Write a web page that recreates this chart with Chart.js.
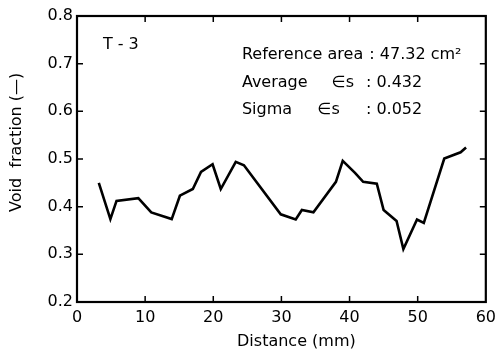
<!DOCTYPE html>
<html>
<head>
<meta charset="utf-8">
<script src="https://cdn.jsdelivr.net/npm/chart.js@4"></script>
<style>
  html, body { margin: 0; padding: 0; background: #fff; }
  #wrap { width: 502px; height: 355px; }
</style>
</head>
<body>
<div id="wrap"><canvas id="voidChart" width="502" height="355"></canvas></div>
<script>
// distance along the sample (mm) and measured void fraction
const distance = [3.2, 4.9, 5.8, 9.0, 10.9, 13.9, 15.1, 17.0, 18.2, 19.9, 21.1, 23.3, 24.5,
                  29.9, 32.1, 33.0, 34.7, 38.0, 39.0, 40.8, 42.0, 44.0, 45.0, 46.9, 47.9,
                  49.9, 50.9, 53.9, 56.3, 57.1];
const voidFraction = [0.450, 0.374, 0.412, 0.418, 0.388, 0.374, 0.423, 0.437, 0.473, 0.489,
                      0.437, 0.494, 0.487, 0.384, 0.373, 0.393, 0.388, 0.452, 0.496, 0.471,
                      0.452, 0.448, 0.393, 0.370, 0.311, 0.373, 0.366, 0.501, 0.514, 0.524];
const xTicks = [0, 10, 20, 30, 40, 50, 60];
const yTicks = [0.2, 0.3, 0.4, 0.5, 0.6, 0.7, 0.8];

const FONT = "'DejaVu Sans', sans-serif";
const INK = '#000';

// frame + inward ticks on all four sides
const frame = {
    id: 'frame',
    afterDraw(chart) {
        const { ctx, chartArea: a, scales: { x, y } } = chart;
        const len = 6;
        ctx.save();
        ctx.strokeStyle = INK;
        ctx.lineWidth = 1.5;
        xTicks.slice(1, -1).forEach(v => {
            const px = x.getPixelForValue(v);
            ctx.beginPath();
            ctx.moveTo(px, a.bottom); ctx.lineTo(px, a.bottom - len);
            ctx.moveTo(px, a.top); ctx.lineTo(px, a.top + len);
            ctx.stroke();
        });
        yTicks.slice(1, -1).forEach(v => {
            const py = y.getPixelForValue(v);
            ctx.beginPath();
            ctx.moveTo(a.left, py); ctx.lineTo(a.left + len, py);
            ctx.moveTo(a.right, py); ctx.lineTo(a.right - len, py);
            ctx.stroke();
        });
        ctx.lineWidth = 2.2;
        ctx.strokeRect(a.left, a.top, a.right - a.left, a.bottom - a.top);
        ctx.restore();
    }
};

// axis titles and the text block inside the plot
const notes = {
    id: 'notes',
    afterDraw(chart) {
        const { ctx, scales: { x, y } } = chart;
        ctx.save();
        ctx.fillStyle = INK;
        ctx.textBaseline = 'middle';

        ctx.font = '16px ' + FONT;
        ctx.textAlign = 'center';
        ctx.fillText('Distance (mm)', x.getPixelForValue(32.2), 342);
        ctx.save();
        ctx.translate(17, y.getPixelForValue(0.535));
        ctx.rotate(-Math.PI / 2);
        ctx.fillText('Void  fraction (—)', 0, 0);
        ctx.restore();

        ctx.textAlign = 'left';
        ctx.fillText('T - 3', x.getPixelForValue(3.8), y.getPixelForValue(0.739));
        const rows = [
            ['Reference area', '', 0, ': 47.32 cm²', 42.9, 0.718],
            ['Average', '∈s', 37.4, ': 0.432', 42.4, 0.660],
            ['Sigma', '∈s', 35.3, ': 0.052', 42.4, 0.603]
        ];
        rows.forEach(r => {
            const py = y.getPixelForValue(r[5]);
            ctx.fillText(r[0], x.getPixelForValue(24.2), py);
            if (r[1]) ctx.fillText(r[1], x.getPixelForValue(r[2]), py);
            ctx.fillText(r[3], x.getPixelForValue(r[4]), py);
        });
        ctx.restore();
    }
};

new Chart(document.getElementById('voidChart'), {
    type: 'line',
    data: {
        datasets: [{
            data: distance.map((d, i) => ({ x: d, y: voidFraction[i] })),
            borderColor: INK,
            borderWidth: 2.6,
            pointRadius: 0,
            tension: 0,
            fill: false
        }]
    },
    options: {
        responsive: false,
        animation: false,
        layout: { padding: { top: 16, right: 14, left: 0, bottom: 0 } },
        plugins: { legend: { display: false }, tooltip: { enabled: false } },
        scales: {
            x: {
                type: 'linear',
                min: 0, max: 60,
                afterBuildTicks: s => { s.ticks = xTicks.map(v => ({ value: v })); },
                afterFit: s => { s.height = 53; },
                grid: { display: false, drawTicks: false },
                border: { display: false },
                ticks: { color: INK, font: { family: FONT, size: 16 }, padding: 6 }
            },
            y: {
                min: 0.2, max: 0.8,
                afterBuildTicks: s => { s.ticks = yTicks.map(v => ({ value: v })); },
                afterFit: s => { s.width = 77; },
                grid: { display: false, drawTicks: false },
                border: { display: false },
                ticks: { color: INK, font: { family: FONT, size: 16 }, padding: 4,
                         callback: v => v.toFixed(1) }
            }
        }
    },
    plugins: [frame, notes]
});
</script>
</body>
</html>
